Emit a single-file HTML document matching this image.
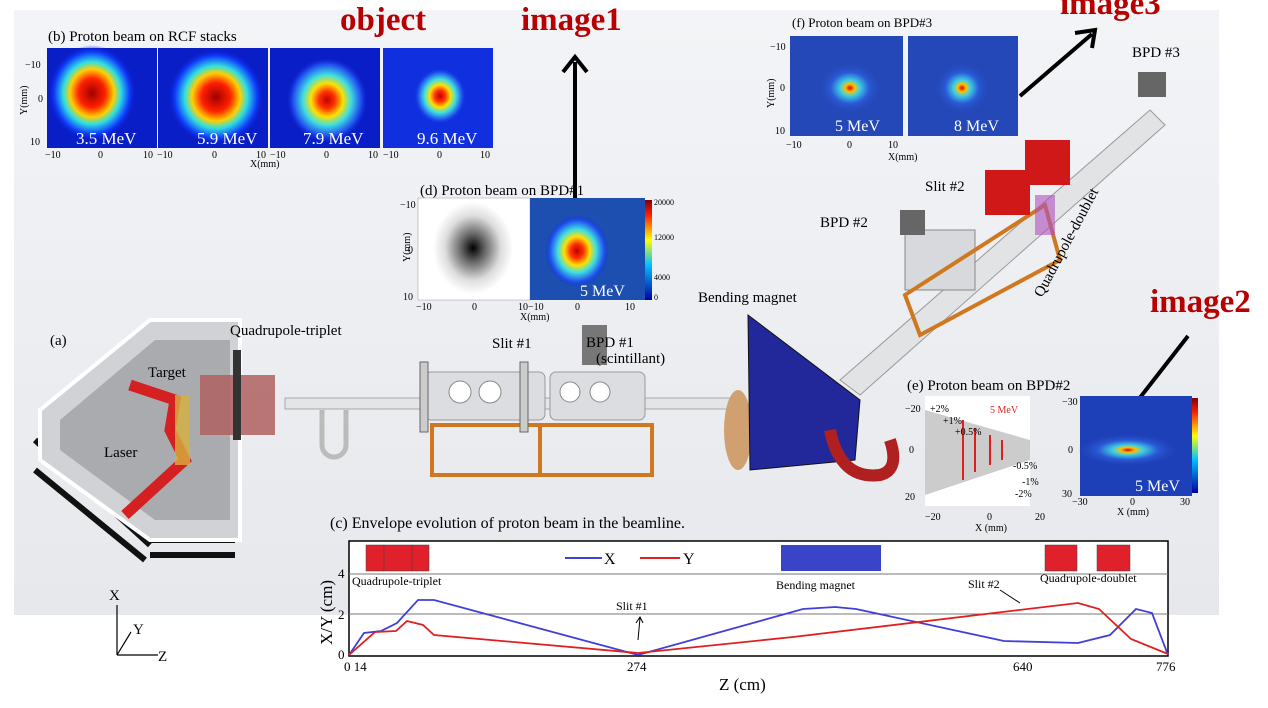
<!DOCTYPE html>
<html><head><meta charset="utf-8"><style>
body{margin:0;width:1268px;height:708px;overflow:hidden;background:#fff;font-family:"Liberation Serif",serif}
svg{display:block}
</style></head><body>
<svg width="1268" height="708" viewBox="0 0 1268 708" xmlns="http://www.w3.org/2000/svg" font-family="Liberation Serif, serif">
<defs>
<linearGradient id="bg" x1="0" y1="0" x2="0" y2="1"><stop offset="0" stop-color="#f3f4f7"/><stop offset="1" stop-color="#e6e8ec"/></linearGradient>
<radialGradient id="hm1"><stop offset="0" stop-color="#a00000"/><stop offset=".3" stop-color="#ff2000"/><stop offset=".5" stop-color="#ffd000"/><stop offset=".65" stop-color="#30e0e0"/><stop offset=".85" stop-color="#1040ff"/><stop offset="1" stop-color="#0a1ec8" stop-opacity="0"/></radialGradient>
<radialGradient id="hm2"><stop offset="0" stop-color="#c00000"/><stop offset=".2" stop-color="#ff3000"/><stop offset=".4" stop-color="#ffe000"/><stop offset=".6" stop-color="#40e0e0"/><stop offset=".85" stop-color="#2050f0"/><stop offset="1" stop-color="#1030d0" stop-opacity="0"/></radialGradient>
<radialGradient id="hm3"><stop offset="0" stop-color="#e00000"/><stop offset=".15" stop-color="#ffc000"/><stop offset=".3" stop-color="#40d0e0"/><stop offset=".6" stop-color="#2a5ad8"/><stop offset="1" stop-color="#2448b8" stop-opacity="0"/></radialGradient>
<radialGradient id="sc"><stop offset="0" stop-color="#000"/><stop offset=".3" stop-color="#666"/><stop offset=".7" stop-color="#ddd"/><stop offset="1" stop-color="#fff"/></radialGradient>
<linearGradient id="cb" x1="0" y1="1" x2="0" y2="0"><stop offset="0" stop-color="#0000a0"/><stop offset=".35" stop-color="#00c0ff"/><stop offset=".6" stop-color="#ffff00"/><stop offset=".85" stop-color="#ff2000"/><stop offset="1" stop-color="#800000"/></linearGradient>
</defs>
<rect x="14" y="10" width="1205" height="605" fill="url(#bg)"/>

<!-- (b) -->
<text x="48" y="41" font-size="15">(b) Proton beam  on RCF stacks</text>
<g>
<rect x="47" y="48" width="110" height="100" fill="#0a1ec8"/><ellipse cx="92" cy="93" rx="44" ry="48" fill="url(#hm1)"/>
<rect x="158" y="48" width="110" height="100" fill="#0a1ec8"/><ellipse cx="216" cy="97" rx="48" ry="48" fill="url(#hm1)"/>
<rect x="270" y="48" width="110" height="100" fill="#0a1ec8"/><ellipse cx="327" cy="100" rx="40" ry="42" fill="url(#hm2)"/>
<rect x="383" y="48" width="110" height="100" fill="#1030e0"/><ellipse cx="440" cy="96" rx="26" ry="28" fill="url(#hm2)"/>
</g>
<g fill="#fff" font-size="17"><text x="76" y="144">3.5 MeV</text><text x="197" y="144">5.9 MeV</text><text x="303" y="144">7.9 MeV</text><text x="417" y="144">9.6 MeV</text></g>
<g font-size="10"><text x="25" y="68">−10</text><text x="38" y="102">0</text><text x="30" y="145">10</text>
<text x="45" y="158">−10</text><text x="98" y="158">0</text><text x="143" y="158">10</text><text x="157" y="158">−10</text><text x="212" y="158">0</text><text x="256" y="158">10</text><text x="270" y="158">−10</text><text x="324" y="158">0</text><text x="368" y="158">10</text><text x="383" y="158">−10</text><text x="437" y="158">0</text><text x="480" y="158">10</text>
<text x="250" y="167">X(mm)</text>
<text transform="translate(27,115) rotate(-90)">Y(mm)</text></g>

<g fill="#b80000" font-weight="bold" font-size="33"><text x="340" y="30">object</text><text x="521" y="30">image1</text><text x="1060" y="14">image3</text><text x="1150" y="312">image2</text></g>
<g stroke="#000" stroke-width="4" fill="none">
<line x1="575" y1="200" x2="575" y2="62"/><polyline points="563,72 575,57 587,72"/>
<line x1="1020" y1="96" x2="1092" y2="34"/><polyline points="1075,33 1095,30 1092,48"/>
<line x1="1188" y1="336" x2="1128" y2="413"/><polyline points="1126,397 1124,418 1143,410"/>
</g>

<!-- (f) -->
<text x="792" y="27" font-size="13">(f) Proton beam  on BPD#3</text>
<rect x="790" y="36" width="113" height="100" fill="#2448b8"/><ellipse cx="850" cy="88" rx="32" ry="26" fill="url(#hm3)"/>
<rect x="908" y="36" width="110" height="100" fill="#2448b8"/><ellipse cx="962" cy="88" rx="28" ry="26" fill="url(#hm3)"/>
<g fill="#fff" font-size="16"><text x="835" y="131">5 MeV</text><text x="954" y="131">8 MeV</text></g>
<g font-size="10"><text x="770" y="50">−10</text><text x="780" y="91">0</text><text x="775" y="134">10</text><text x="786" y="148">−10</text><text x="847" y="148">0</text><text x="888" y="148">10</text><text x="888" y="160">X(mm)</text><text transform="translate(774,108) rotate(-90)">Y(mm)</text></g>
<text x="1132" y="57" font-size="15">BPD #3</text>

<!-- (d) -->
<text x="420" y="195" font-size="15">(d) Proton beam  on BPD#1</text>
<rect x="418" y="198" width="112" height="102" fill="#fff" stroke="#999" stroke-width=".5"/><ellipse cx="473" cy="248" rx="40" ry="46" fill="url(#sc)"/>
<rect x="530" y="198" width="115" height="102" fill="#1d4fb0"/><ellipse cx="577" cy="251" rx="32" ry="36" fill="url(#hm2)"/>
<rect x="645" y="200" width="7" height="100" fill="url(#cb)"/>
<text x="580" y="296" font-size="16" fill="#fff">5 MeV</text>
<g font-size="8"><text x="654" y="205">20000</text><text x="654" y="240">12000</text><text x="654" y="280">4000</text><text x="654" y="300">0</text></g>
<g font-size="10"><text x="400" y="208">−10</text><text x="408" y="253">0</text><text x="403" y="300">10</text><text x="416" y="310">−10</text><text x="472" y="310">0</text><text x="518" y="310">10−10</text><text x="575" y="310">0</text><text x="625" y="310">10</text><text x="520" y="320">X(mm)</text><text transform="translate(410,262) rotate(-90)">Y(mm)</text></g>

<!-- machinery -->
<g>
<!-- chamber legs -->
<g stroke="#111" stroke-width="6" fill="none"><line x1="35" y1="440" x2="150" y2="545"/><line x1="35" y1="470" x2="145" y2="560"/><line x1="150" y1="540" x2="235" y2="540"/><line x1="150" y1="555" x2="235" y2="555"/></g>
<polygon points="40,410 150,320 240,320 240,540 150,540 40,460" fill="#d0d2d5" stroke="#fff" stroke-width="4"/>
<polygon points="60,420 155,340 230,340 230,520 155,520 60,450" fill="#a9abae"/>
<path d="M130,385 L175,400 L170,430 L185,460 L125,515" stroke="#d42020" stroke-width="11" fill="none"/>
<rect x="175" y="395" width="15" height="70" fill="#d8b040" opacity=".8"/>
<rect x="200" y="375" width="75" height="60" fill="#b06060" opacity=".85"/>
<rect x="233" y="350" width="8" height="90" fill="#333"/>
<rect x="285" y="398" width="460" height="11" fill="#e4e5e7" stroke="#999" stroke-width=".8"/>
<path d="M322,410 v35 a12,12 0 0 0 24,0 v-35" fill="none" stroke="#bbb" stroke-width="5"/>
<g fill="none" stroke="#d07820" stroke-width="4"><rect x="432" y="425" width="108" height="50"/><rect x="540" y="425" width="112" height="50"/></g>
<rect x="425" y="372" width="120" height="48" rx="6" fill="#dcdde0" stroke="#999"/>
<rect x="550" y="372" width="95" height="48" rx="6" fill="#dcdde0" stroke="#999"/>
<g fill="#fff" stroke="#888"><circle cx="460" cy="392" r="11"/><circle cx="490" cy="392" r="11"/><circle cx="570" cy="392" r="10"/><circle cx="600" cy="392" r="10"/></g>
<rect x="420" y="362" width="8" height="70" fill="#ccc" stroke="#666"/><rect x="520" y="362" width="8" height="70" fill="#ccc" stroke="#666"/>
<rect x="582" y="325" width="25" height="40" fill="#777"/>
<ellipse cx="738" cy="430" rx="14" ry="40" fill="#d0a070"/>
<polygon points="748,315 860,400 855,460 750,470" fill="#22289a" stroke="#111"/>
<path d="M830,430 q10,50 50,45 q20,-5 10,-35" stroke="#b02020" stroke-width="12" fill="none"/>
<polygon points="840,380 1150,110 1165,125 860,395" fill="#e2e3e5" stroke="#999"/>
<rect x="905" y="230" width="70" height="60" fill="#d8d9dc" stroke="#888"/>
<g fill="none" stroke="#d07820" stroke-width="4"><polygon points="905,295 1045,205 1060,260 920,335"/></g>
<rect x="985" y="170" width="45" height="45" fill="#d01818"/><rect x="1025" y="140" width="45" height="45" fill="#d01818"/>
<rect x="1035" y="195" width="20" height="40" fill="#b050c0" opacity=".6"/>
<rect x="1138" y="72" width="28" height="25" fill="#666"/>
<rect x="900" y="210" width="25" height="25" fill="#666"/>
</g>
<text x="698" y="302" font-size="15">Bending magnet</text>
<text x="925" y="191" font-size="15">Slit #2</text>
<text x="820" y="227" font-size="15">BPD #2</text>
<text transform="translate(1042,298) rotate(-62)" font-size="15">Quadrupole-doublet</text>
<text x="50" y="345" font-size="15">(a)</text>
<text x="230" y="335" font-size="15">Quadrupole-triplet</text>
<text x="492" y="348" font-size="15">Slit #1</text>
<text x="586" y="347" font-size="15">BPD #1</text>
<text x="596" y="363" font-size="15">(scintillant)</text>
<text x="148" y="377" font-size="15">Target</text>
<text x="104" y="457" font-size="15">Laser</text>

<!-- (e) -->
<text x="907" y="390" font-size="15">(e) Proton beam  on BPD#2</text>
<rect x="925" y="396" width="105" height="110" fill="#fff"/><polygon points="925,410 1030,440 1030,460 925,495" fill="#aaa" opacity=".6"/>
<g stroke="#e02020" stroke-width="2"><line x1="963" y1="420" x2="963" y2="480"/><line x1="975" y1="428" x2="975" y2="472"/><line x1="990" y1="435" x2="990" y2="465"/><line x1="1002" y1="440" x2="1002" y2="460"/></g>
<g font-size="10"><text x="930" y="412">+2%</text><text x="943" y="424">+1%</text><text x="955" y="435">+0.5%</text><text x="1013" y="469">-0.5%</text><text x="1022" y="485">-1%</text><text x="1015" y="497">-2%</text><text x="990" y="413" fill="#e02020">5 MeV</text>
<text x="905" y="412">−20</text><text x="909" y="453">0</text><text x="905" y="500">20</text><text x="925" y="520">−20</text><text x="987" y="520">0</text><text x="1035" y="520">20</text><text x="975" y="531">X (mm)</text>
<text x="1062" y="405">−30</text><text x="1068" y="453">0</text><text x="1062" y="497">30</text><text x="1072" y="505">−30</text><text x="1130" y="505">0</text><text x="1180" y="505">30</text><text x="1117" y="515">X (mm)</text></g>
<rect x="1080" y="396" width="112" height="100" fill="#1d3fb8"/><ellipse cx="1128" cy="450" rx="50" ry="16" fill="url(#hm3)"/>
<rect x="1192" y="398" width="6" height="95" fill="url(#cb)"/>
<text x="1135" y="491" font-size="16" fill="#fff">5 MeV</text>

<!-- (c) plot -->
<text x="330" y="528" font-size="16">(c) Envelope evolution of proton beam in the beamline.</text>
<rect x="349" y="541" width="819" height="115" fill="#fff" stroke="#000" stroke-width="1.5"/>
<line x1="349" y1="574" x2="1168" y2="574" stroke="#777"/><line x1="349" y1="614" x2="1168" y2="614" stroke="#777"/>
<g fill="#e0202a" stroke="#444" stroke-width=".5"><rect x="366" y="545" width="18" height="26"/><rect x="384" y="545" width="28" height="26"/><rect x="412" y="545" width="17" height="26"/><rect x="1045" y="545" width="32" height="26"/><rect x="1097" y="545" width="33" height="26"/></g>
<rect x="781" y="545" width="100" height="26" fill="#3a44c8"/>
<line x1="565" y1="558" x2="602" y2="558" stroke="#4040d8" stroke-width="2"/><text x="604" y="564" font-size="16">X</text>
<line x1="640" y1="558" x2="680" y2="558" stroke="#e02020" stroke-width="2"/><text x="683" y="564" font-size="16">Y</text>
<g font-size="12"><text x="352" y="585">Quadrupole-triplet</text><text x="776" y="589">Bending magnet</text><text x="968" y="588">Slit #2</text><text x="1040" y="582">Quadrupole-doublet</text><text x="616" y="610">Slit #1</text></g>
<g stroke="#000" stroke-width="1"><line x1="638" y1="640" x2="640" y2="618"/><polyline points="636,623 640,617 643,623" fill="none"/><line x1="1020" y1="603" x2="1000" y2="590"/></g>
<polyline fill="none" stroke="#4040d8" stroke-width="1.8" points="349,655 364,633 381,631 397,623 418,600 434,600 638,655 803,609 835,607 856,609 1004,641 1078,643 1110,635 1136,609 1152,613 1168,655"/>
<polyline fill="none" stroke="#e02020" stroke-width="1.8" points="349,655 375,632 396,631 407,621 423,625 434,635 638,653 793,637 1078,603 1099,609 1131,639 1168,654"/>
<g font-size="13"><text x="338" y="659">0</text><text x="338" y="619">2</text><text x="338" y="578">4</text>
<text x="344" y="671">0 14</text><text x="627" y="671">274</text><text x="1013" y="671">640</text><text x="1156" y="671">776</text></g>
<text x="719" y="690" font-size="17">Z (cm)</text>
<text transform="translate(332,645) rotate(-90)" font-size="17">X/Y (cm)</text>

<g stroke="#000" stroke-width="1.2" fill="none"><line x1="117" y1="655" x2="117" y2="605"/><line x1="117" y1="655" x2="158" y2="655"/><line x1="117" y1="655" x2="131" y2="632"/></g>
<g font-size="15"><text x="109" y="600">X</text><text x="133" y="634">Y</text><text x="158" y="661">Z</text></g>
</svg>
</body></html>
